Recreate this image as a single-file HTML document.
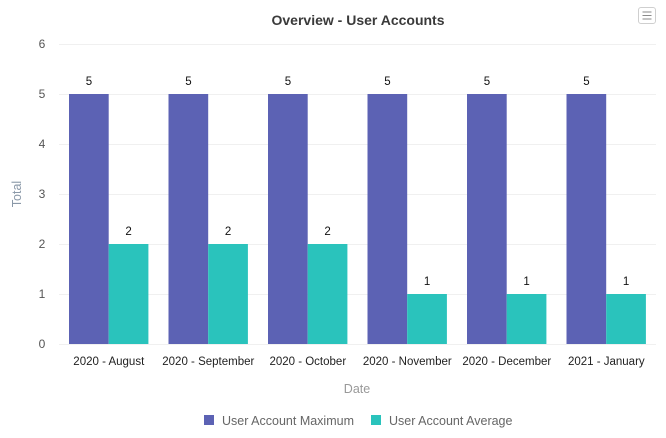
<!DOCTYPE html>
<html>
<head>
<meta charset="utf-8">
<style>
  html,body{margin:0;padding:0;background:#fff;}
  svg{display:block;font-family:"Liberation Sans",sans-serif;}
</style>
</head>
<body>
<svg width="666" height="438" viewBox="0 0 666 438" xmlns="http://www.w3.org/2000/svg">
  <rect width="666" height="438" fill="#fff"/>
  <!-- title -->
  <text x="358" y="25" text-anchor="middle" font-size="14" font-weight="bold" fill="#3a3a3a">Overview - User Accounts</text>
  <!-- menu icon -->
  <rect x="638.5" y="7.5" width="17" height="16" rx="2.5" fill="#fff" stroke="#cfcfcf" stroke-width="1"/>
  <line x1="642.5" y1="12" x2="651.5" y2="12" stroke="#8a8a8a" stroke-width="1"/>
  <line x1="642.5" y1="15.5" x2="651.5" y2="15.5" stroke="#8a8a8a" stroke-width="1"/>
  <line x1="642.5" y1="19" x2="651.5" y2="19" stroke="#8a8a8a" stroke-width="1"/>

  <!-- gridlines -->
  <g stroke="#f0f0f0" stroke-width="1">
    <line x1="59" y1="44.5" x2="656" y2="44.5"/>
    <line x1="59" y1="94.5" x2="656" y2="94.5"/>
    <line x1="59" y1="144.5" x2="656" y2="144.5"/>
    <line x1="59" y1="194.5" x2="656" y2="194.5"/>
    <line x1="59" y1="244.5" x2="656" y2="244.5"/>
    <line x1="59" y1="294.5" x2="656" y2="294.5"/>
    <line x1="59" y1="344.5" x2="656" y2="344.5"/>
  </g>

  <!-- y labels -->
  <g font-size="12" fill="#555" text-anchor="middle">
    <text x="42" y="48">6</text>
    <text x="42" y="98">5</text>
    <text x="42" y="148">4</text>
    <text x="42" y="198">3</text>
    <text x="42" y="248">2</text>
    <text x="42" y="298">1</text>
    <text x="42" y="348">0</text>
  </g>
  <text transform="translate(21,194) rotate(-90)" text-anchor="middle" font-size="12.5" fill="#8a98a8">Total</text>

  <!-- bars -->
  <g fill="#5c62b4">
    <rect x="69" y="94" width="39.7" height="250"/>
    <rect x="168.5" y="94" width="39.7" height="250"/>
    <rect x="268" y="94" width="39.7" height="250"/>
    <rect x="367.5" y="94" width="39.7" height="250"/>
    <rect x="467" y="94" width="39.7" height="250"/>
    <rect x="566.5" y="94" width="39.7" height="250"/>
  </g>
  <g fill="#2ac3bc">
    <rect x="108.7" y="244" width="39.7" height="100"/>
    <rect x="208.2" y="244" width="39.7" height="100"/>
    <rect x="307.7" y="244" width="39.7" height="100"/>
    <rect x="407.2" y="294" width="39.7" height="50"/>
    <rect x="506.7" y="294" width="39.7" height="50"/>
    <rect x="606.2" y="294" width="39.7" height="50"/>
  </g>

  <!-- data labels -->
  <g font-size="11.5" fill="#111" text-anchor="middle">
    <text x="88.9" y="85">5</text>
    <text x="188.4" y="85">5</text>
    <text x="287.9" y="85">5</text>
    <text x="387.4" y="85">5</text>
    <text x="486.9" y="85">5</text>
    <text x="586.4" y="85">5</text>
    <text x="128.6" y="235">2</text>
    <text x="228.1" y="235">2</text>
    <text x="327.6" y="235">2</text>
    <text x="427.1" y="285">1</text>
    <text x="526.6" y="285">1</text>
    <text x="626.1" y="285">1</text>
  </g>

  <!-- x labels -->
  <g font-size="11.5" fill="#222" text-anchor="middle">
    <text x="108.8" y="365">2020 - August</text>
    <text x="208.3" y="365">2020 - September</text>
    <text x="307.8" y="365">2020 - October</text>
    <text x="407.3" y="365">2020 - November</text>
    <text x="506.8" y="365">2020 - December</text>
    <text x="606.3" y="365">2021 - January</text>
  </g>
  <text x="357" y="393" text-anchor="middle" font-size="12.5" fill="#999">Date</text>

  <!-- legend -->
  <rect x="204" y="415" width="10" height="10" fill="#5c62b4"/>
  <text x="222" y="425" font-size="12.5" fill="#666">User Account Maximum</text>
  <rect x="371" y="415" width="10" height="10" fill="#2ac3bc"/>
  <text x="389" y="425" font-size="12.5" fill="#666">User Account Average</text>
</svg>
</body>
</html>
